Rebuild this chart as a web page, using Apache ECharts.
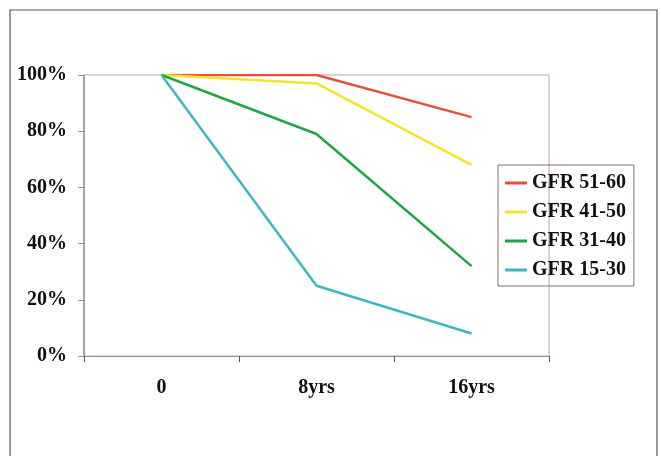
<!DOCTYPE html>
<html><head><meta charset="utf-8">
<script src="https://cdn.jsdelivr.net/npm/echarts@6/dist/echarts.min.js"></script>
<style>html,body{margin:0;padding:0;background:#fff}#c{width:661px;height:456px}</style>
</head><body><div id="c"></div>
<script>
var categories = ['0', '8yrs', '16yrs'];
var seriesNames = ['GFR 51-60', 'GFR 41-50', 'GFR 31-40', 'GFR 15-30'];
var gfr5160 = [100, 100, 85];
var gfr4150 = [100, 97, 68];
var gfr3140 = [100, 79, 32];
var gfr1530 = [100, 25, 8];
var colors = ['#e0533a', '#f4e42c', '#1fa548', '#40b6c0'];
var values = [gfr5160, gfr4150, gfr3140, gfr1530];

var chart = echarts.init(document.getElementById('c'));
var font = '"Liberation Serif","Times New Roman",serif';
chart.setOption({
  animation: false,
  grid: {left: 84, right: 112, top: 75, bottom: 100, show: true, borderColor: '#c0a8a4', borderWidth: 1},
  graphic: [{type: 'rect', shape: {x: 10, y: 10, width: 647, height: 460}, style: {fill: 'none', stroke: '#555', lineWidth: 1.2}, z: -1}],
  xAxis: {
    type: 'category', data: categories, boundaryGap: true,
    axisLine: {lineStyle: {color: '#8a96a6', width: 1}},
    axisTick: {show: true, length: 6, lineStyle: {color: '#555'}},
    axisLabel: {color: '#111', fontFamily: font, fontWeight: 'bold', fontSize: 20, margin: 22}
  },
  yAxis: {
    type: 'value', min: 0, max: 100, interval: 20,
    splitLine: {show: false},
    axisLine: {show: true, lineStyle: {color: '#8a96a6', width: 1.5}},
    axisTick: {show: true, length: 6, lineStyle: {color: '#8a96a6'}},
    axisLabel: {formatter: '{value}%', color: '#111', fontFamily: font, fontWeight: 'bold', fontSize: 20, margin: 17}
  },
  legend: {
    orient: 'vertical', left: 498, top: 165,
    data: seriesNames,
    icon: 'rect', itemWidth: 22, itemHeight: 3, itemGap: 9,
    borderColor: '#8c6e62', borderWidth: 1, padding: [8, 8, 6, 7],
    textStyle: {color: '#111', fontFamily: font, fontWeight: 'bold', fontSize: 20, padding: [0, 0, 0, 0]}
  },
  series: values.map(function (v, i) {
    return {
      name: seriesNames[i], type: 'line', data: v, symbol: 'none',
      lineStyle: {color: colors[i], width: 2.5}, itemStyle: {color: colors[i]}
    };
  })
});
</script></body></html>
